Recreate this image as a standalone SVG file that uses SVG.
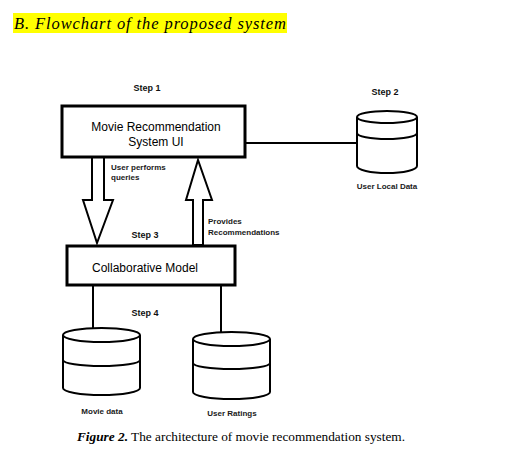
<svg xmlns="http://www.w3.org/2000/svg" width="505" height="471" viewBox="0 0 505 471">
<defs>
<style>
.box{fill:#fff;stroke:#000;stroke-width:3}
.cyl{fill:#fff;stroke:#000;stroke-width:2}
.ln{fill:none;stroke:#000;stroke-width:2}
.arr{fill:#fff;stroke:#000;stroke-width:2;stroke-linejoin:miter}
.lbl{font-family:"Liberation Sans",Arial,sans-serif;font-size:12px;fill:#000}
.step{font-family:"Liberation Sans",Arial,sans-serif;font-size:9px;font-weight:bold;fill:#111}
.sm{font-family:"Liberation Sans",Arial,sans-serif;font-size:8px;font-weight:bold;fill:#1a1a1a}
.ser{font-family:"Liberation Serif","Times New Roman",serif}
</style>
</defs>
<rect width="505" height="471" fill="#fff"/>
<g id="title">
<rect x="13" y="13" width="274" height="20" fill="#ffff00"/>
<text x="14" y="29" class="ser" font-size="16.5" font-style="italic" textLength="272" lengthAdjust="spacing">B.  Flowchart of the proposed system</text>
</g>
<g id="connectors">
<line class="ln" x1="245" y1="143" x2="357" y2="143"/>
<line class="ln" x1="93" y1="285" x2="93" y2="329"/>
<line class="ln" x1="221" y1="285" x2="221" y2="332"/>
<path class="arr" d="M92,157 L104,157 L104,200 L113,200 L97,243 L83,200 L92,200 Z"/>
<path class="arr" d="M193,245 L203,245 L203,200 L212,200 L198,160 L186,200 L193,200 Z"/>
<text class="sm" x="111" y="170">User performs</text>
<text class="sm" x="111" y="180">queries</text>
<text class="sm" x="208" y="224">Provides</text>
<text class="sm" x="208" y="235">Recommendations</text>
</g>
<g id="step1">
<text class="step" x="147" y="91" text-anchor="middle">Step 1</text>
</g>
<g id="ui">
<rect class="box" x="62" y="106" width="183" height="51"/>
<text class="lbl" x="156" y="131" text-anchor="middle">Movie Recommendation</text>
<text class="lbl" x="156" y="146" text-anchor="middle">System  UI</text>
</g>
<g id="localdata">
<text class="step" x="385" y="95" text-anchor="middle">Step 2</text>
<path class="cyl" d="M357,117 L357,166 A30,7 0 0 0 417,166 L417,117"/>
<path class="ln" d="M357,133 A30,6 0 0 0 417,133"/>
<ellipse class="cyl" cx="387" cy="117" rx="30" ry="6"/>
<text class="sm" x="387" y="189" text-anchor="middle" font-size="7.5">User Local Data</text>
</g>
<g id="step3">
<text class="step" x="145" y="238" text-anchor="middle">Step 3</text>
</g>
<g id="model">
<rect class="box" x="67" y="246" width="168" height="39"/>
<text class="lbl" x="145" y="272" text-anchor="middle">Collaborative Model</text>
</g>
<g id="step4">
<text class="step" x="145" y="316" text-anchor="middle">Step 4</text>
</g>
<g id="moviedata">
<path class="cyl" d="M63,335 L63,388 A38.5,7 0 0 0 140,388 L140,335"/>
<path class="ln" d="M63,360 A38.5,6 0 0 0 140,360"/>
<ellipse class="cyl" cx="101.5" cy="335" rx="38.5" ry="7"/>
<text class="sm" x="102" y="414" text-anchor="middle">Movie data</text>
</g>
<g id="ratings">
<path class="cyl" d="M193,339 L193,392 A38.5,7 0 0 0 270,392 L270,339"/>
<path class="ln" d="M193,363 A38.5,6 0 0 0 270,363"/>
<ellipse class="cyl" cx="231.5" cy="339" rx="38.5" ry="7"/>
<text class="sm" x="232" y="416" text-anchor="middle">User Ratings</text>
</g>
<g id="caption">
<text x="77" y="441" class="ser" font-size="13.3"><tspan font-weight="bold" font-style="italic">Figure 2.</tspan> The architecture of movie recommendation system.</text>
</g>
</svg>
